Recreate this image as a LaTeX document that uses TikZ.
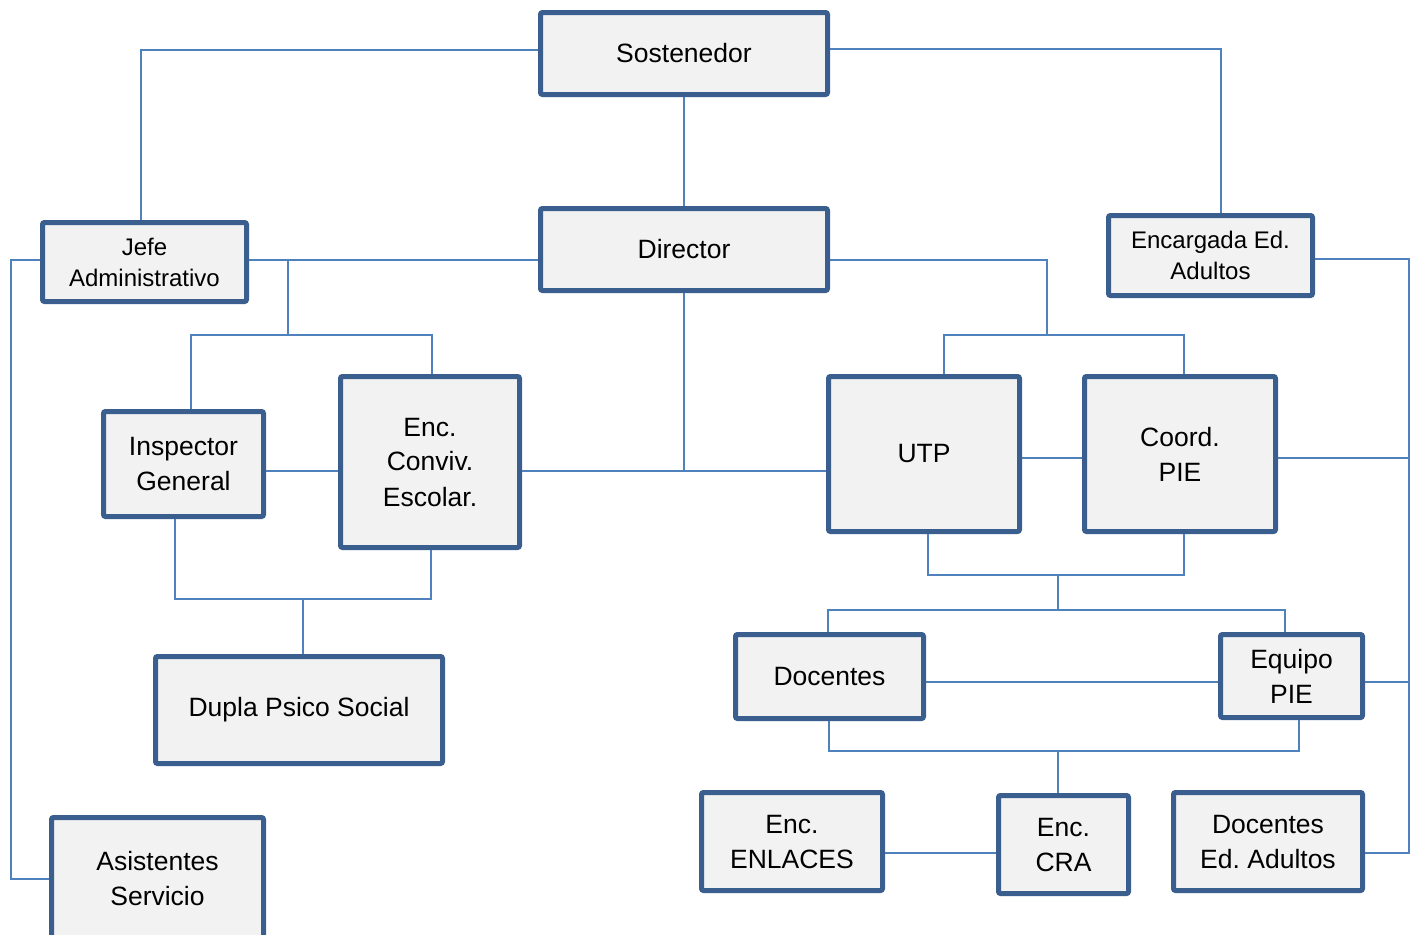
\documentclass[tikz,border=0pt]{standalone}
\usepackage{fontspec}
\setmainfont{Liberation Sans}
\frenchspacing
\definecolor{bxborder}{HTML}{3A5E8E}
\definecolor{bxfill}{HTML}{F2F2F2}
\definecolor{conncol}{HTML}{4F81BD}
\tikzset{
  box/.style={draw=bxborder, fill=bxfill, line width=2.5pt, rounded corners=1pt,
    inner sep=0pt, align=center, font=\frenchspacing\fontsize{13.25}{17.5}\selectfont},
  smalltext/.style={font=\frenchspacing\fontsize{12}{15.5}\selectfont},
  conn/.style={draw=conncol, line width=1pt}
}
\newcommand\mybx[7][]{%
  \pgfmathsetmacro\bxcx{(#3+#5)/2}\pgfmathsetmacro\bxcy{(#4+#6)/2}%
  \pgfmathsetmacro\bxw{(#5-#3-5)*0.5}\pgfmathsetmacro\bxh{(#6-#4-5)*0.5}%
  \node[box,#1, minimum width=\bxw pt, minimum height=\bxh pt] (#2) at (\bxcx,\bxcy) {#7};}
\begin{document}
\begin{tikzpicture}[x=0.5pt,y=-0.5pt]
\useasboundingbox (0,0) rectangle (1415,934);
% junction coordinates
\coordinate (a1) at (141,50);
\coordinate (a2) at (1221,49);
\coordinate (b1) at (288,260);
\coordinate (b2) at (288,335);
\coordinate (b3) at (191,335);
\coordinate (b4) at (432,335);
\coordinate (c1) at (11,260);
\coordinate (d1) at (684,471);
\coordinate (e1) at (175,599);
\coordinate (e2) at (431,599);
\coordinate (e3) at (303,599);
\coordinate (f1) at (1047,260);
\coordinate (f2) at (1047,335);
\coordinate (f3) at (944,335);
\coordinate (f4) at (1184,335);
\coordinate (r1) at (1409,259);
\coordinate (r2) at (1409,458);
\coordinate (r3) at (1409,682);
\coordinate (r4) at (1409,853);
\coordinate (h1) at (928,575);
\coordinate (h2) at (1184,575);
\coordinate (h3) at (1058,575);
\coordinate (h4) at (1058,610);
\coordinate (h5) at (828,610);
\coordinate (h6) at (1285,610);
\coordinate (i1) at (829,751);
\coordinate (i2) at (1299,751);
\coordinate (i3) at (1058,751);
% boxes
\mybx{sost}{538}{10}{830}{97}{Sostenedor}
\mybx{dir}{538}{206}{830}{293}{Director}
\mybx[smalltext]{jefe}{40}{220}{249}{304}{Jefe\\Administrativo}
\mybx[smalltext]{enc}{1106}{213}{1315}{298}{Encargada Ed.\\Adultos}
\mybx{insp}{101}{409}{266}{519}{Inspector\\General}
\mybx{conv}{338}{374}{522}{550}{Enc.\\Conviv.\\Escolar.}
\mybx{utp}{826}{374}{1022}{534}{UTP}
\mybx{coord}{1082}{374}{1278}{534}{Coord.\\PIE}
\mybx{dupla}{153}{654}{445}{766}{Dupla Psico Social}
\mybx{doc}{733}{632}{926}{721}{Docentes}
\mybx{eqp}{1218}{632}{1365}{720}{Equipo\\PIE}
\mybx{enl}{699}{790}{885}{893}{Enc.\\ENLACES}
\mybx{cra}{996}{793}{1131}{896}{Enc.\\CRA}
\mybx{dea}{1171}{790}{1365}{893}{Docentes\\Ed. Adultos}
\mybx{asis}{49}{815}{266}{943}{Asistentes\\Servicio}
% connectors
\draw[conn] (sost.west |- a1) -- (a1) -- (a1 |- jefe.north);
\draw[conn] (sost.east |- a2) -- (a2) -- (a2 |- enc.north);
\draw[conn] (sost.south) -- (dir.north);
\draw[conn] (jefe.east |- b1) -- (dir.west |- b1);
\draw[conn] (b1) -- (b2);
\draw[conn] (b3 |- insp.north) -- (b3) -- (b4) -- (b4 |- conv.north);
\draw[conn] (jefe.west |- c1) -- (c1) |- (asis.west);
\draw[conn] (dir.south) -- (d1);
\draw[conn] (conv.east |- d1) -- (utp.west |- d1);
\draw[conn] (insp.east |- d1) -- (conv.west |- d1);
\draw[conn] (e1 |- insp.south) -- (e1) -- (e2) -- (e2 |- conv.south);
\draw[conn] (e3) -- (e3 |- dupla.north);
\draw[conn] (dir.east |- f1) -- (f1) -- (f2);
\draw[conn] (f3 |- utp.north) -- (f3) -- (f4) -- (f4 |- coord.north);
\draw[conn] (utp.east |- r2) -- (coord.west |- r2);
\draw[conn] (enc.east |- r1) -- (r1) -- (r4) -- (r4 -| dea.east);
\draw[conn] (coord.east |- r2) -- (r2);
\draw[conn] (eqp.east |- r3) -- (r3);
\draw[conn] (h1 |- utp.south) -- (h1) -- (h2) -- (h2 |- coord.south);
\draw[conn] (h3) -- (h4);
\draw[conn] (h5 |- doc.north) -- (h5) -- (h6) -- (h6 |- eqp.north);
\draw[conn] (doc.east |- r3) -- (eqp.west |- r3);
\draw[conn] (i1 |- doc.south) -- (i1) -- (i2) -- (i2 |- eqp.south);
\draw[conn] (i3) -- (i3 |- cra.north);
\draw[conn] (enl.east |- r4) -- (cra.west |- r4);
\end{tikzpicture}
\end{document}
